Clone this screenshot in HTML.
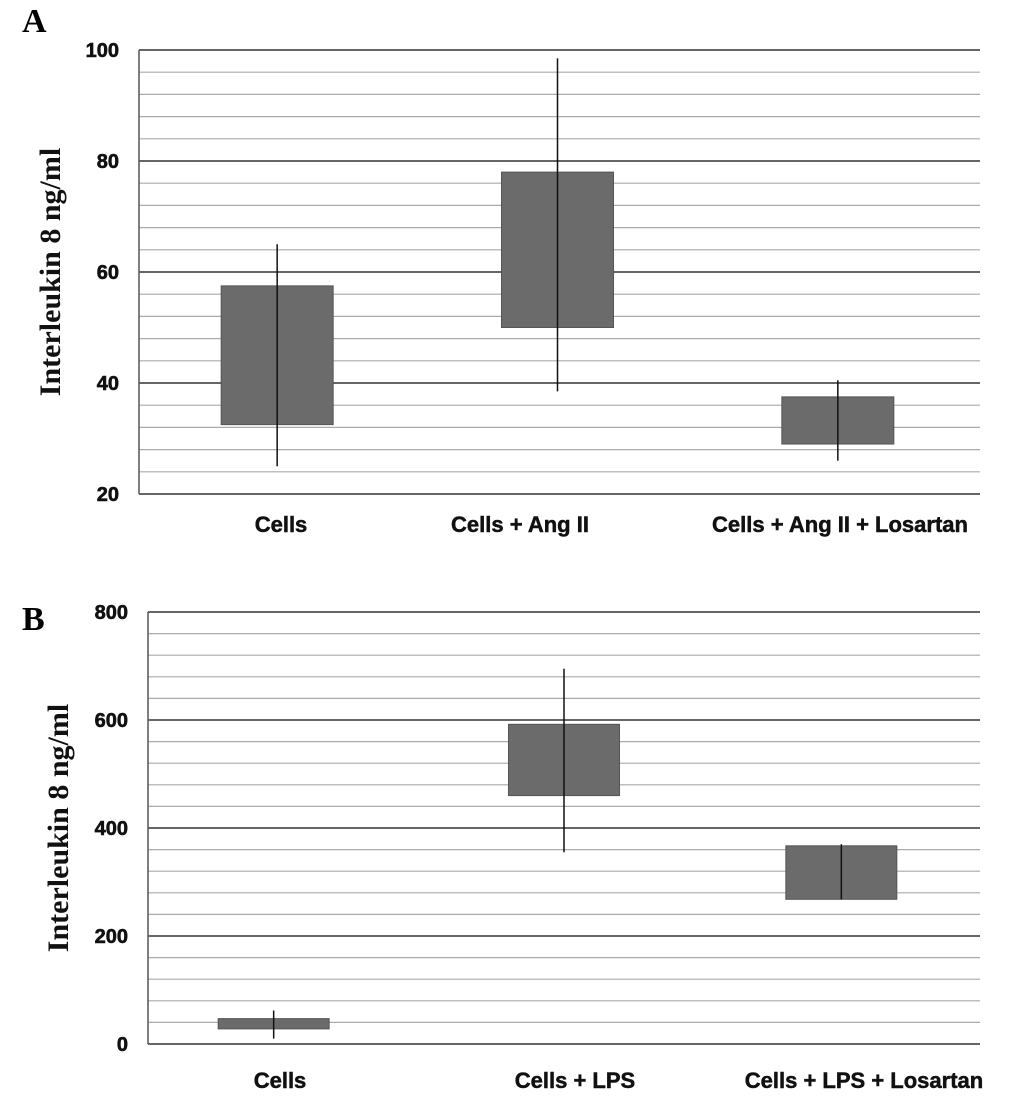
<!DOCTYPE html>
<html><head><meta charset="utf-8"><style>
body{margin:0;background:#fff;}
svg text{font-family:"Liberation Sans",Arial,sans-serif;font-weight:bold;}
</style></head><body>
<svg id="c" width="1033" height="1100" xmlns="http://www.w3.org/2000/svg"></svg>
<script>
const catsA=["Cells","Cells + Ang II","Cells + Ang II + Losartan"];
const boxLowA=[32.5,50,29];
const boxHighA=[57.5,78,37.5];
const whiskLowA=[25,38.5,26];
const whiskHighA=[65,98.5,40.5];
const ticksA=[20,40,60,80,100];
const catsB=["Cells","Cells +  LPS","Cells + LPS + Losartan"];
const boxLowB=[28,460,268];
const boxHighB=[47,592,367];
const whiskLowB=[10,355,268];
const whiskHighB=[62,695,370];
const ticksB=[0,200,400,600,800];
const NS="http://www.w3.org/2000/svg";
const svg=document.getElementById('c');
function mk(t,a,txt){const e=document.createElementNS(NS,t);for(const k in a)e.setAttribute(k,a[k]);if(txt!==undefined)e.textContent=txt;svg.appendChild(e);return e;}
function panel(p){
  const y=v=>p.y0+(v-p.min)/(p.max-p.min)*(p.y1-p.y0);
  const step=(p.max-p.min)/((p.ticks.length-1)*5);
  for(let v=p.min;v<=p.max+1e-9;v+=step){
    const major=Math.abs(((v-p.min)/(step*5))-Math.round((v-p.min)/(step*5)))<1e-6;
    const l=mk('line',{x1:p.left,x2:p.right,y1:y(v),y2:y(v),stroke:major?'#333':'#aaa','stroke-width':major?1.5:1.2});
    
    
  }
  const ax=mk('line',{x1:p.left,x2:p.left,y1:p.y0,y2:p.y1,stroke:'#555','stroke-width':1.5});
  
  p.ticks.forEach(t=>{const e=mk('text',{x:p.left-20,y:y(t)+7,'text-anchor':'end','font-size':20,fill:'#111','stroke':'#111','stroke-width':0.6},t);
    });
  const lt=mk('text',{x:22,y:p.labelY,'font-size':34,fill:'#000'},p.label);
  lt.style.fontFamily='"Liberation Serif",serif';
  
  const tt=mk('text',{transform:`translate(${p.titleX},${(p.y0+p.y1)/2}) rotate(-90)`,'text-anchor':'middle','font-size':30,fill:'#111'},'Interleukin 8 ng/ml');
  tt.style.fontFamily='"Liberation Serif",serif';
  
  const bw=(p.right-p.left)/3;
  p.cats.forEach((c,i)=>{
    const cx=p.left+bw*(i+0.5)+p.shift[i];
    const r=mk('rect',{x:cx-p.w/2,y:y(p.bh[i]),width:p.w,height:y(p.bl[i])-y(p.bh[i]),fill:'#6b6b6b',stroke:'#555'});
    
    const w=mk('line',{x1:cx,x2:cx,y1:y(p.wh[i]),y2:y(p.wl[i]),stroke:'#111','stroke-width':1.5});
    
    const t=mk('text',{x:p.labX[i],y:p.catY,'text-anchor':'middle','font-size':22,fill:'#111','stroke':'#111','stroke-width':0.5},c);
    
  });
}
panel({left:139,right:980,y0:494,y1:50,min:20,max:100,ticks:ticksA,cats:catsA,bl:boxLowA,bh:boxHighA,wl:whiskLowA,wh:whiskHighA,w:112,shift:[-2,-2,-2],labX:[281,520,840],catY:532,label:'A',labelY:32,titleX:60});
panel({left:148,right:980,y0:1044,y1:612,min:0,max:800,ticks:ticksB,cats:catsB,bl:boxLowB,bh:boxHighB,wl:whiskLowB,wh:whiskHighB,w:111,shift:[-13,0,0],labX:[280,575,864],catY:1088,label:'B',labelY:630,titleX:68});
</script>
</body></html>
